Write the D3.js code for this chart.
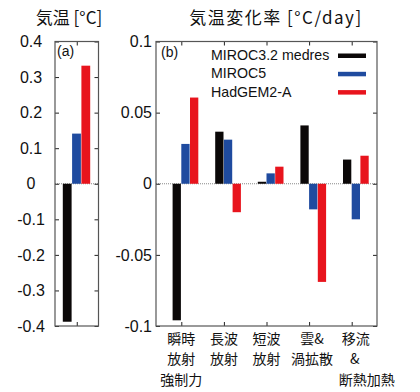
<!DOCTYPE html>
<html><head><meta charset="utf-8">
<script src="https://cdn.jsdelivr.net/npm/d3@7"></script>
<style>body{margin:0;background:#fff} svg{display:block}</style>
</head><body><svg id="c" width="420" height="392"></svg>
<script>
// ---- data ----
const series = ["MIROC3.2 medres", "MIROC5", "HadGEM2-A"];
const seriesColors = ["#0b0808", "#1f4b9f", "#e8141d"];
const tempValues = [-0.388, 0.141, 0.332];
const categories = ["瞬時放射強制力", "長波放射", "短波放射", "雲&渦拡散", "移流&断熱加熱"];
const categoryLabelLines = [["瞬時", "放射", "強制力"], ["長波", "放射"], ["短波", "放射"], ["雲&", "渦拡散"], ["移流", "&", "断熱加熱"]];
const rateMIROC32 = [-0.096, 0.0366, 0.0014, 0.041, 0.017];
const rateMIROC5 = [0.028, 0.031, 0.0073, -0.018, -0.025];
const rateHadGEM2A = [0.0606, -0.020, 0.012, -0.069, 0.0197];
const tempTicks = [0.4, 0.3, 0.2, 0.1, 0, -0.1, -0.2, -0.3, -0.4];
const tempTickLabels = ["0.4", "0.3", "0.2", "0.1", "0", "-0.1", "-0.2", "-0.3", "-0.4"];
const rateTicks = [0.1, 0.05, 0, -0.05, -0.1];
const rateTickLabels = ["0.1", "0.05", "0", "-0.05", "-0.1"];
const titleA = "気温 [°C]";
const titleB = "気温変化率  [°C/day]";

// ---- layout ----
const svg = d3.select("#c");
const FONT = "'Liberation Sans', 'Noto Sans CJK JP', sans-serif";
const CJK = "'Noto Sans CJK JP', sans-serif";
const yTop = 41.5, yBot = 326;
const A = {x0: 55, x1: 98.5};
const B = {x0: 156, x1: 377};

const yA = d3.scaleLinear().domain([-0.4, 0.4]).range([yBot, yTop]);
const yB = d3.scaleLinear().domain([-0.1, 0.1]).range([yBot, yTop]);

function frame(p, y, ticks, labels, anchor, labelX) {
  const g = svg.append("g");
  g.append("line").attr("x1", p.x0).attr("x2", p.x1).attr("y1", y(0)).attr("y2", y(0))
    .attr("stroke", "#888").attr("stroke-width", 1).attr("stroke-dasharray", "1,1");
  const left = g.append("g").attr("transform", `translate(${p.x0},0)`)
    .call(d3.axisLeft(y).tickValues(ticks).tickSize(-4).tickFormat((d, i) => labels[i]));
  left.select(".domain").remove();
  left.selectAll("line").attr("stroke", "#222");
  left.selectAll("text").attr("font-family", FONT).attr("font-size", 16).attr("fill", "#111")
    .attr("text-anchor", anchor).attr("x", labelX - p.x0);
  const right = g.append("g").attr("transform", `translate(${p.x1},0)`)
    .call(d3.axisRight(y).tickValues(ticks).tickSize(-4).tickFormat(""));
  right.select(".domain").remove();
  right.selectAll("line").attr("stroke", "#222");
  return g;
}

function box(p) {
  svg.append("rect").attr("x", p.x0).attr("y", yTop).attr("width", p.x1 - p.x0).attr("height", yBot - yTop)
    .attr("fill", "none").attr("stroke", "#555").attr("stroke-width", 1.2);
}

// ---- Panel (a) ----
frame(A, yA, tempTicks, tempTickLabels, "middle", 31);
const xA = d3.scalePoint().domain(["a"]).range([A.x0, A.x1]).padding(0.5);
const barWA = 9.3;
const innerA = d3.scaleBand().domain(series).range([-1.5 * barWA, 1.5 * barWA]);
svg.append("g").selectAll("rect").data(series).join("rect")
  .attr("x", s => xA("a") + innerA(s))
  .attr("width", innerA.bandwidth() - 0.5)
  .attr("y", (s, i) => yA(Math.max(0, tempValues[i])))
  .attr("height", (s, i) => Math.abs(yA(tempValues[i]) - yA(0)))
  .attr("fill", (s, i) => seriesColors[i]);
svg.append("g").attr("transform", `translate(0,${yBot})`).call(d3.axisBottom(xA).tickSize(-4).tickFormat("")).call(g => g.select(".domain").remove()).selectAll("line").attr("stroke", "#222");
svg.append("g").attr("transform", `translate(0,${yTop})`).call(d3.axisTop(xA).tickSize(-4).tickFormat("")).call(g => g.select(".domain").remove()).selectAll("line").attr("stroke", "#222");
box(A);
svg.append("text").attr("x", 57).attr("y", 56).attr("font-family", FONT).attr("font-size", 14).attr("fill", "#111").text("(a)");
svg.append("text").attr("x", 69).attr("y", 24).attr("text-anchor", "middle").attr("font-family", CJK).attr("font-size", 17).attr("fill", "#111").text(titleA);

// ---- Panel (b) ----
frame(B, yB, rateTicks, rateTickLabels, "end", 152);
const xB = d3.scalePoint().domain(categories).range([B.x0, B.x1]).padding(0.594);
const barWB = 8.7;
const innerB = d3.scaleBand().domain(series).range([-barWB, 2 * barWB]);
const rateSeries = [rateMIROC32, rateMIROC5, rateHadGEM2A];
series.forEach((s, si) => {
  svg.append("g").selectAll("rect").data(categories).join("rect")
    .attr("x", c => xB(c) + innerB(s))
    .attr("width", innerB.bandwidth() - 0.4)
    .attr("y", (c, i) => yB(Math.max(0, rateSeries[si][i])))
    .attr("height", (c, i) => Math.abs(yB(rateSeries[si][i]) - yB(0)))
    .attr("fill", seriesColors[si]);
});
svg.append("g").attr("transform", `translate(0,${yBot})`).call(d3.axisBottom(xB).tickSize(-4).tickFormat("")).call(g => g.select(".domain").remove()).selectAll("line").attr("stroke", "#222");
svg.append("g").attr("transform", `translate(0,${yTop})`).call(d3.axisTop(xB).tickSize(-4).tickFormat("")).call(g => g.select(".domain").remove()).selectAll("line").attr("stroke", "#222");
box(B);
svg.append("text").attr("x", 161).attr("y", 57).attr("font-family", FONT).attr("font-size", 14).attr("fill", "#111").text("(b)");
svg.append("text").attr("x", 276).attr("y", 24).attr("text-anchor", "middle").attr("font-family", CJK).attr("font-size", 17).attr("letter-spacing", 1.5).attr("fill", "#111").text(titleB);

// category labels (one multi-line text per category)
const lineDx = [[0, 0, 0], [0, 0], [0, 0], [3, 3], [4, 3, 15]];
categories.forEach((c, ci) => {
  const t = svg.append("text").attr("x", xB(c)).attr("y", 344)
    .attr("text-anchor", "middle").attr("font-family", CJK).attr("font-size", 14).attr("fill", "#111");
  categoryLabelLines[ci].forEach((ln, li) => {
    t.append("tspan").attr("x", xB(c) + lineDx[ci][li]).attr("y", 344 + li * 20.4).text(ln);
  });
});

// legend
const lg = svg.append("g");
series.forEach((s, i) => {
  const yy = 60 + i * 18.3;
  lg.append("text").attr("x", 211).attr("y", yy).attr("font-family", FONT).attr("font-size", 14.2).attr("fill", "#111").text(s);
  lg.append("rect").attr("x", 338).attr("y", yy - 6.5).attr("width", 28).attr("height", 4.5).attr("fill", seriesColors[i]);
});
</script></body></html>
